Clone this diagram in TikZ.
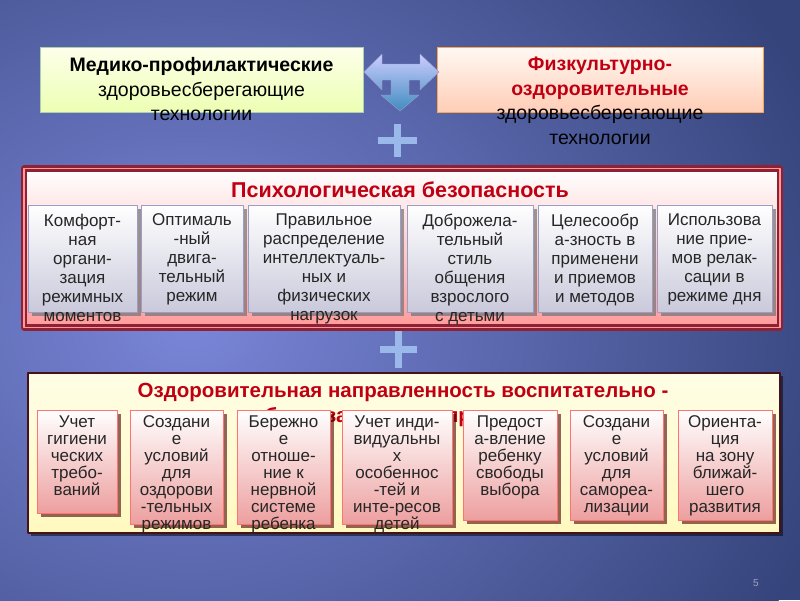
\documentclass[tikz,border=0pt]{standalone}
\usepackage{fontspec}
\setmainfont{Liberation Sans}
\usetikzlibrary{shadows,positioning}

\definecolor{bgdark}{HTML}{35447B}
\definecolor{bglight}{HTML}{7A86D8}
\definecolor{titlered}{HTML}{C00012}
\definecolor{maroon}{HTML}{8E2234}
\definecolor{plusblue}{HTML}{9AB8EA}

\begin{document}
\begin{tikzpicture}[
    x=1pt,y=-1pt,
    line cap=round,
    line join=round,
    topbox/.style={minimum width=#1,minimum height=65,inner sep=0},
    toptext/.style={align=center,font=\fontsize{19.5}{24.5}\selectfont,inner sep=0},
    title/.style={align=center,text=titlered,font=\bfseries\fontsize{#1}{25}\selectfont,inner sep=0},
    psybox/.style={top color=white,bottom color=blue!20!gray!35,draw=blue!30!gray!60,line width=0.8,
        drop shadow={shadow xshift=4pt,shadow yshift=-4pt,fill=black!55,opacity=.7},inner sep=0},
    ozdbox/.style={top color=white,bottom color=red!40!pink!80!gray!70,draw=red!40!pink,line width=0.8,
        drop shadow={shadow xshift=4pt,shadow yshift=-4pt,fill=black!70!red,opacity=.6},inner sep=0},
    boxtext/.style={anchor=north,align=center,text=black!85,font=\fontsize{17}{#1}\selectfont,inner xsep=0},
]
% background
\fill[bgdark] (0,0) rectangle (800,600);
\begin{scope}
\clip (0,0) rectangle (800,600);
\shade[inner color=bglight,outer color=bgdark] (190,320) ellipse [x radius=680,y radius=560];
\end{scope}

% top boxes
\node[topbox=323,top color=green!8!yellow!8,bottom color=green!25!yellow!30!white,draw=green!30!gray!50]
    (med) at (201.5,79.5) {};
\node[toptext] (medt) at (201.5,89.5) {\textbf{Медико-профилактические}\\здоровьесберегающие\\технологии};
\node[topbox=326,top color=orange!5,bottom color=orange!30!pink!60,draw=orange!70,line width=1]
    (fiz) at (600,79.5) {};
\node[toptext] (fizt) at (600,101) {\textcolor{titlered}{\textbf{Физкультурно-}}\\\textcolor{titlered}{\textbf{оздоровительные}}\\здоровьесберегающие\\технологии};

% arrow
\shade[top color=blue!20!white,bottom color=blue!40!cyan!50!gray,draw=blue!30!gray!60,line width=0.4]
    (364,72) -- (382,54) -- (382,64) -- (420,64) -- (420,54) -- (439,72) -- (420,90) -- (420,80)
    -- (409,80) -- (409,95) -- (419,95) -- (400,111) -- (381,95) -- (391,95) -- (391,80)
    -- (382,80) -- (382,90) -- cycle;

% plus signs
\fill[plusblue] (378,137) rectangle (417,144);
\fill[plusblue] (394,124) rectangle (401,157);
\fill[plusblue] (380,346) rectangle (417,353);
\fill[plusblue] (395,331) rectangle (402,368);

% panel one
\node[minimum width=756,minimum height=159,top color=white,bottom color=red!25!pink!90,
    draw=maroon,line width=2.5,double=pink!80!red,double distance=1.2pt] (psy) at (402,248) {};
\node[title=21.5] (psyt) at (400,190) {Психологическая безопасность};
\foreach \l/\r/\t [count=\i] in {
    28/137/{Комфорт-\\ная\\органи-\\зация\\режимных\\моментов},
    141/243/{Оптималь\\-ный\\двига-\\тельный\\режим},
    248/400/{Правильное\\распределение\\интеллектуаль-\\ных и\\физических\\нагрузок},
    407/533/{Доброжела-\\тельный\\стиль\\общения\\взрослого\\с детьми},
    538/652/{Целесообр\\а-зность в\\применени\\и приемов\\и методов},
    657/772/{Использова\\ние прие-\\мов релак-\\сации в\\режиме дня}} {
  \node[psybox,minimum width={(\r-\l)*1pt},minimum height=107] (p\i) at ({(\l+\r)/2},258.5) {};
  \node[boxtext=19,inner ysep=9] (pt\i) at (p\i.north) {\t};
}

% panel two
\node[minimum width=752,minimum height=160,top color=orange!8!yellow!10,bottom color=orange!20!yellow!25,
    draw=black!50!maroon,line width=2,
    drop shadow={shadow xshift=3pt,shadow yshift=-3pt,fill=black,opacity=.5}] (ozd) at (404,453) {};
\node[title=20.5] (ozdt) at (403,392) {Оздоровительная направленность воспитательно -};
\node[title=20.5] (ozds) at (397,417) {образовательного процесса};
\foreach \l/\r/\b/\t [count=\i] in {
    37/117/513/{Учет\\гигиени\\ческих\\требо-\\ваний},
    130/223/524/{Создани\\е\\условий\\для\\оздорови\\-тельных\\режимов},
    237/330/524/{Бережно\\е\\отноше-\\ние к\\нервной\\системе\\ребенка},
    342/452/524/{Учет инди-\\видуальны\\х\\особеннос\\-тей и\\инте-ресов\\детей},
    463/557/520/{Предост\\а-вление\\ребенку\\свободы\\выбора},
    570/663/520/{Создани\\е\\условий\\для\\самореа-\\лизации},
    678/772/520/{Ориента-\\ция\\на зону\\ближай-\\шего\\развития}} {
  \node[ozdbox,minimum width={(\r-\l)*1pt},minimum height={(\b-410)*1pt}] (o\i) at ({(\l+\r)/2},{(410+\b)/2}) {};
  \node[boxtext=17,inner ysep=6] (ot\i) at (o\i.north) {\t};
}

% page number
\node[text=blue!20!gray!60,font=\fontsize{10}{12}\selectfont] (num) at (756,583) {5};
\end{tikzpicture}
\end{document}
